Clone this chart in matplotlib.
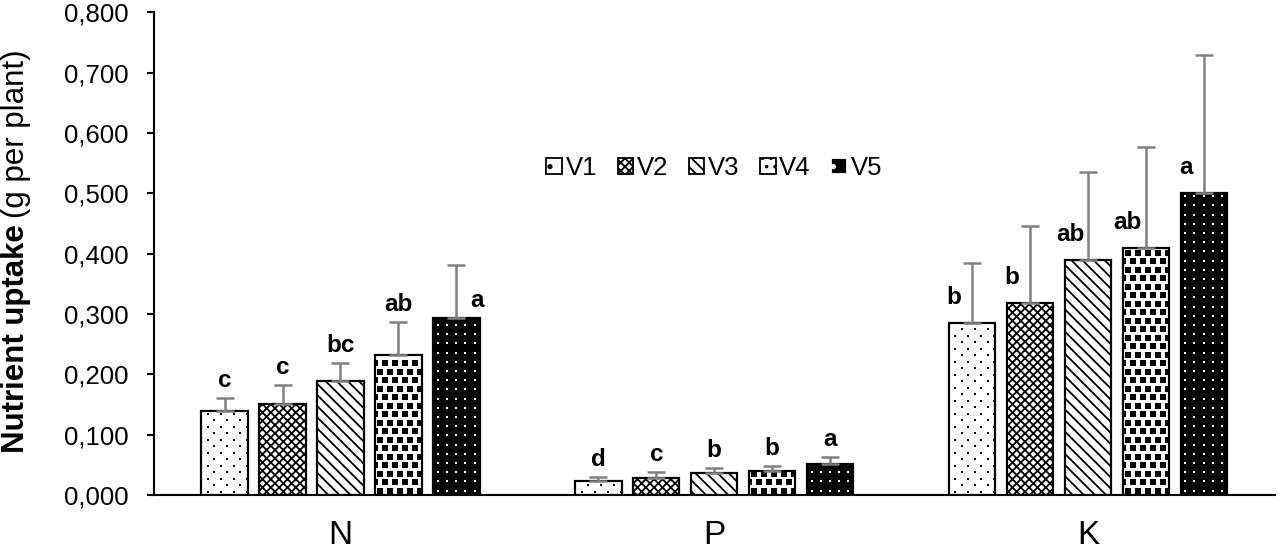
import numpy as np
import matplotlib
matplotlib.use("Agg")
import matplotlib.pyplot as plt
from matplotlib.ticker import FuncFormatter
from matplotlib.patches import Patch

plt.rcParams["font.family"] = ["Liberation Sans", "DejaVu Sans"]

# =========================
# DATA
# =========================

nutrients = ["N", "P", "K"]
varieties = ["V1", "V2", "V3", "V4", "V5"]

# mean uptake per nutrient (N, P, K) for each variety
v1 = [0.140, 0.023, 0.285]
v2 = [0.151, 0.028, 0.318]
v3 = [0.189, 0.036, 0.389]
v4 = [0.232, 0.040, 0.409]
v5 = [0.294, 0.051, 0.500]

# upper error per bar
e1 = [0.021, 0.007, 0.099]
e2 = [0.031, 0.010, 0.127]
e3 = [0.030, 0.009, 0.147]
e4 = [0.055, 0.008, 0.167]
e5 = [0.088, 0.012, 0.229]

letters_n = ["c", "c", "bc", "ab", "a"]
letters_p = ["d", "c", "b", "b", "a"]
letters_k = ["b", "b", "ab", "ab", "a"]

means = [v1, v2, v3, v4, v5]
errs = [e1, e2, e3, e4, e5]
letters = [letters_n, letters_p, letters_k]

# =========================
# STYLE
# =========================

face = ["white", "white", "white", "white", "black"]
hatch = [None, "xxxx", "\\\\\\", None, None]
# dot textures: (x step px, y step px, staggered, marker, size, colour)
texture = [
    (13, 6.5, True, "s", 4.5, "black"),
    None,
    None,
    (10, 8.5, True, "s", 14, "black"),
    (9.2, 9.2, False, "s", 3.0, "white"),
]
legend_hatch = [".", "xxxx", "\\\\\\", "..", "."]

width = 0.124
step = 0.155

fig = plt.figure(figsize=(12.8, 5.52), dpi=100)
ax = fig.add_axes([0.120, 0.103, 0.876, 0.875])
ax.set_xlim(-0.5, 2.5)
ax.set_ylim(0, 0.8)

x = np.arange(len(nutrients))


def fill_texture(bar, sx, sy, stagger, marker, size, color):
    bb = bar.get_window_extent()
    px, py = [], []
    row = 0
    yy = bb.y0 + sy / 2
    while yy < bb.y1:
        shift = sx / 2 if (stagger and row % 2) else 0
        xx = bb.x0 + sx / 2 - shift
        while xx < bb.x1 + sx:
            px.append(xx)
            py.append(yy)
            xx += sx
        yy += sy
        row += 1
    if not px:
        return
    pts = ax.transData.inverted().transform(np.column_stack([px, py]))
    sc = ax.scatter(pts[:, 0], pts[:, 1], s=size, marker=marker, c=color,
                    linewidths=0, zorder=2.5)
    sc.set_clip_path(bar)


with plt.rc_context({"hatch.linewidth": 1.3}):
    for i in range(len(varieties)):
        xi = x + (i - 2) * step
        bars = ax.bar(xi, means[i], width, color=face[i], edgecolor="black",
                      hatch=hatch[i], linewidth=0, zorder=2)
        if texture[i] is not None:
            for b in bars:
                fill_texture(b, *texture[i])
        ax.bar(xi, means[i], width, facecolor="none", edgecolor="black",
               linewidth=1.6, zorder=3)
        ax.errorbar(xi, means[i], yerr=[np.zeros(len(x)), errs[i]], fmt="none",
                    ecolor="#808080", elinewidth=1.8, capsize=6.5, capthick=1.8,
                    zorder=4)

# significance letters
for g in range(len(nutrients)):
    for i in range(len(varieties)):
        xi = x[g] + (i - 2) * step
        top = means[i][g] + errs[i][g]
        if g == 2:
            pos, off = (xi, means[i][g]), (-13, 14)
        elif g == 0 and i == 4:
            pos, off = (xi, means[i][g]), (15, 8)
        else:
            pos, off = (xi, top), (0, 8)
        ax.annotate(letters[g][i], pos, xytext=off, textcoords="offset points",
                    ha="center", va="baseline", fontsize=17.5, fontweight="bold",
                    zorder=5)

# =========================
# AXES
# =========================

ax.set_yticks(np.arange(0, 0.81, 0.1))
ax.yaxis.set_major_formatter(FuncFormatter(lambda v, p: f"{v:.3f}".replace(".", ",")))
ax.set_xticks(x)
ax.set_xticklabels(nutrients, fontsize=24)
ax.tick_params(axis="x", length=0, pad=18)
ax.tick_params(axis="y", labelsize=18.5, length=5, width=1.5, direction="out", pad=13)

for s in ["top", "right"]:
    ax.spines[s].set_visible(False)
ax.spines["left"].set_linewidth(1.5)
ax.spines["bottom"].set_linewidth(1.5)

# legend
handles = []
with plt.rc_context({"hatch.linewidth": 1.3}):
    for i in range(len(varieties)):
        ec = "white" if face[i] == "black" else "black"
        handles.append(Patch(facecolor=face[i], edgecolor=ec, hatch=legend_hatch[i],
                             linewidth=1.3, label=varieties[i]))
    ax.legend(handles=handles, loc="center", bbox_to_anchor=(0.5, 0.677), ncol=5,
              frameon=False, fontsize=18.5, handlelength=0.6, handleheight=0.6,
              handletextpad=0.15, columnspacing=0.8, borderpad=0)

# y label: bold part + normal part
t1 = fig.text(0.0125, 0.179, "Nutrient uptake", rotation=90, ha="center",
              va="bottom", fontsize=22.5, fontweight="bold")
fig.canvas.draw()
bb = t1.get_window_extent()
fig.text(0.0125, (bb.y1 + 6) / fig.bbox.height, "(g per plant)", rotation=90,
         ha="center", va="bottom", fontsize=22.5)

fig.savefig("out.png", dpi=100)
